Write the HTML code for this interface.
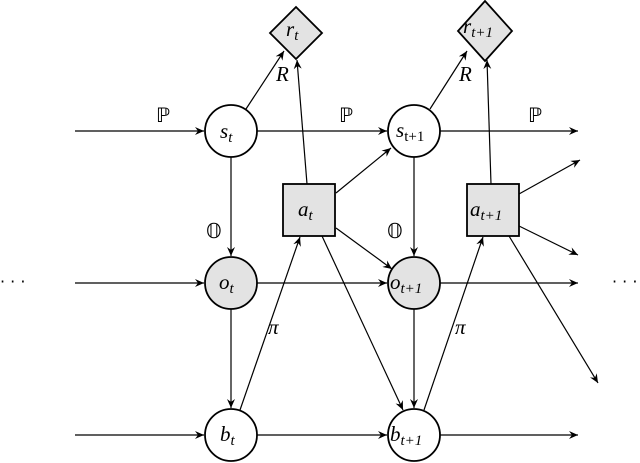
<!DOCTYPE html>
<html><head><style>
html,body{margin:0;padding:0;background:#fff;}
svg{display:block;}
text{font-family:"Liberation Serif","DejaVu Serif",serif;font-style:italic;fill:#000;}
.u{font-style:normal;font-family:"DejaVu Sans","Liberation Sans",sans-serif;}
</style></head><body>
<svg width="640" height="463" viewBox="0 0 640 463" xmlns="http://www.w3.org/2000/svg">
<defs><marker id="a" markerWidth="10" markerHeight="8" refX="9" refY="4" orient="auto" markerUnits="userSpaceOnUse"><path d="M0,0 L9,4 L0,8 L3,4 Z" fill="#000"/></marker></defs>
<g stroke="#000" stroke-width="1.2" fill="none" marker-end="url(#a)">
<line x1="75" y1="131" x2="204" y2="131"/><line x1="257" y1="131" x2="387" y2="131"/><line x1="440" y1="131" x2="578" y2="131"/>
<line x1="75" y1="283" x2="204" y2="283"/><line x1="257" y1="283" x2="387" y2="283"/><line x1="440" y1="283" x2="578" y2="283"/>
<line x1="75" y1="435" x2="204" y2="435"/><line x1="257" y1="435" x2="387" y2="435"/><line x1="440" y1="435" x2="578" y2="435"/>
<line x1="231" y1="157" x2="231" y2="256"/><line x1="231" y1="309" x2="231" y2="408"/>
<line x1="414" y1="157" x2="414" y2="256"/><line x1="414" y1="309" x2="414" y2="408"/>
<line x1="246" y1="109" x2="284" y2="51"/><line x1="430" y1="109" x2="467" y2="51"/>
<line x1="307" y1="184" x2="297" y2="60"/><line x1="491" y1="184" x2="487" y2="60"/>
<line x1="336" y1="193" x2="391" y2="148"/><line x1="336" y1="228" x2="392" y2="269"/>
<line x1="322" y1="236" x2="403" y2="410"/><line x1="240" y1="410" x2="300" y2="237"/>
<line x1="424" y1="410" x2="483" y2="237"/>
<line x1="519" y1="194" x2="580" y2="160"/><line x1="519" y1="226" x2="578" y2="255"/><line x1="509" y1="236" x2="598" y2="383"/>
</g>
<g stroke="#000" stroke-width="1.8">
<circle cx="231" cy="131" r="26" fill="#fff"/><circle cx="414" cy="131" r="26" fill="#fff"/>
<circle cx="231" cy="283" r="26" fill="#e3e3e3"/><circle cx="414" cy="283" r="26" fill="#e3e3e3"/>
<circle cx="231" cy="435" r="26" fill="#fff"/><circle cx="414" cy="435" r="26" fill="#fff"/>
<rect x="283" y="184" width="52" height="52" fill="#e3e3e3"/><rect x="467" y="184" width="52" height="52" fill="#e3e3e3"/>
<path d="M296,7 L322,33 L296,59 L270,33 Z" fill="#e3e3e3"/><path d="M485,1 L512,31 L485,61 L458,31 Z" fill="#e3e3e3"/>
</g>
<g font-size="21">
<text x="220" y="138">s<tspan font-size="15" dy="4">t</tspan></text>
<text x="396" y="137">s<tspan font-size="15" dy="4" font-style="normal">t+1</tspan></text>
<text x="219" y="289">o<tspan font-size="15" dy="4">t</tspan></text>
<text x="390" y="289">o<tspan font-size="15" dy="4">t+1</tspan></text>
<text x="220" y="441">b<tspan font-size="15" dy="4">t</tspan></text>
<text x="390" y="441">b<tspan font-size="15" dy="4">t+1</tspan></text>
<text x="298" y="216">a<tspan font-size="15" dy="4">t</tspan></text>
<text x="470" y="216">a<tspan font-size="15" dy="4">t+1</tspan></text>
<text x="286" y="36">r<tspan font-size="15" dy="4">t</tspan></text>
<text x="463" y="33">r<tspan font-size="15" dy="4">t+1</tspan></text>
<text x="276" y="81">R</text><text x="459" y="81">R</text>
<text x="268" y="334">π</text><text x="455" y="334">π</text>
</g>
<g font-size="20" class="u">
<text class="u" x="156" y="122">ℙ</text><text class="u" x="339" y="122">ℙ</text><text class="u" x="528" y="122">ℙ</text>
<text class="u" x="206" y="238">𝕆</text><text class="u" x="387" y="238">𝕆</text>
</g>
<text class="u" x="0" y="287" font-size="16">· · ·</text>
<text class="u" x="612" y="287" font-size="16">· · ·</text>
</svg>
</body></html>
